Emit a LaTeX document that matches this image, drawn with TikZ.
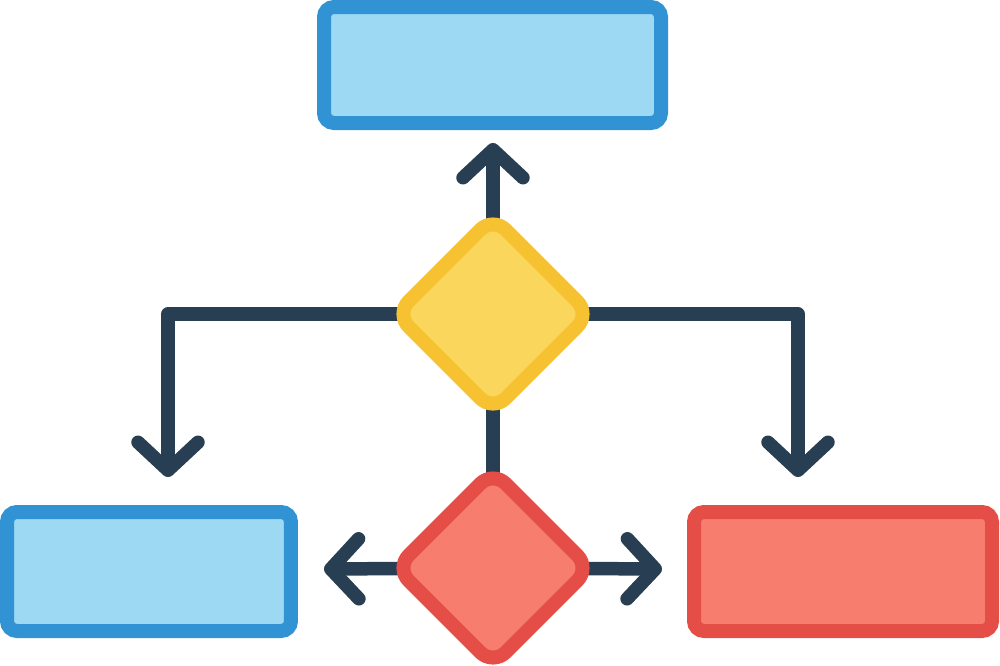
\documentclass[tikz,border=0pt]{standalone}
\usetikzlibrary{arrows.meta,shapes.geometric,backgrounds}
\definecolor{navy}{HTML}{283E53}
\definecolor{blueline}{HTML}{3193D3}
\definecolor{bluefill}{HTML}{9DD9F2}
\definecolor{yelline}{HTML}{F6C232}
\definecolor{yelfill}{HTML}{FBD65C}
\definecolor{redline}{HTML}{E54D47}
\definecolor{redfill}{HTML}{F77E6E}
\begin{document}
\begin{tikzpicture}[x=0.1mm,y=-0.1mm,box/.style={draw,line width=1.4mm,rounded corners=1mm,inner sep=0pt,outer sep=0pt},bluebox/.style={box,draw=blueline,fill=bluefill},redbox/.style={box,draw=redline,fill=redfill},dia/.style={diamond,aspect=1,draw,line width=1.4mm,rounded corners=1.8mm,inner sep=0pt,outer sep=0pt,minimum width=19.4mm,minimum height=19.4mm},link/.style={draw=navy,line width=1.35mm,line cap=round,line join=round},arr/.style={link,-{Straight Barb[length=2.8mm,width=6mm,round]}}]
\useasboundingbox (0,0) rectangle (1000,666);
\node[bluebox,minimum width=33.7mm,minimum height=11.6mm] (top) at (492.5,65) {};
\node[dia,draw=yelline,fill=yelfill] (ydec) at (493,314) {};
\node[dia,draw=redline,fill=redfill] (rdec) at (493,568) {};
\node[bluebox,minimum width=28.4mm,minimum height=11.9mm] (lbox) at (149,571.5) {};
\node[redbox,minimum width=29.8mm,minimum height=11.9mm] (rbox) at (843,571.5) {};
\coordinate (ttip) at (493,143);
\coordinate (ltip) at (168,477);
\coordinate (rtip) at (798,477);
\coordinate (wtip) at (324,569);
\coordinate (etip) at (662,569);
\begin{scope}[on background layer]
\draw[arr] (ydec.center)--(ttip);
\draw[arr] (ydec.center)-|(ltip);
\draw[arr] (ydec.center)-|(rtip);
\draw[link] (ydec.center)--(rdec.center);
\draw[arr] (rdec.center)--(wtip);
\draw[arr] (rdec.center)--(etip);
\end{scope}
\end{tikzpicture}
\end{document}
